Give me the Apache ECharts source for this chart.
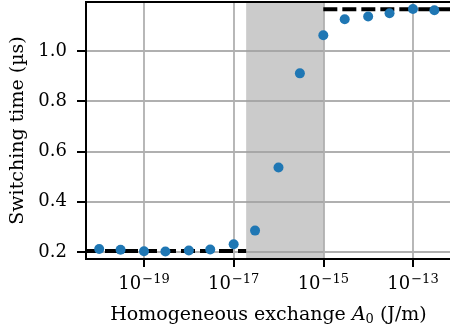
<!DOCTYPE html>
<html><head><meta charset="utf-8">
<script src="https://cdn.jsdelivr.net/npm/echarts@6/dist/echarts.min.js"></script>
<style>html,body{margin:0;padding:0;background:#fff}#c{width:450px;height:331px}</style>
</head><body><div id="c"></div>
<script>
// ---- data ----
const exchangeA0 = [1e-20, 3e-20, 1e-19, 3e-19, 1e-18, 3e-18, 1e-17, 3e-17, 1e-16, 3e-16, 1e-15, 3e-15, 1e-14, 3e-14, 1e-13, 3e-13];
const switchingTime = [0.212, 0.209, 0.203, 0.202, 0.206, 0.210, 0.231, 0.285, 0.536, 0.911, 1.063, 1.126, 1.137, 1.150, 1.167, 1.162];
const xTicks = [1e-19, 1e-17, 1e-15, 1e-13];
const yTicks = [0.2, 0.4, 0.6, 0.8, 1.0];
const shadedRange = [1.9e-17, 1e-15];
const lowLevel = 0.204;
const highLevel = 1.166;
const xRange = [Math.pow(10, -20.294), Math.pow(10, -12.152)];
const yRange = [0.172, 1.195];

const FONT = '"DejaVu Serif", "Liberation Serif", serif';
const chart = echarts.init(document.getElementById('c'), null, {renderer: 'canvas'});

const points = exchangeA0.map((x, i) => [x, switchingTime[i]]);

chart.setOption({
  animation: false,
  backgroundColor: '#fff',
  grid: {
    left: 86, top: 2, width: 365, height: 257,
    containLabel: false, outerBoundsMode: 'none',
    show: true, borderColor: '#000', borderWidth: 2, backgroundColor: 'transparent', z: 5
  },
  xAxis: {
    type: 'log', logBase: 10, min: xRange[0], max: xRange[1], z: 1,
    axisLine: {show: false},
    axisTick: {show: true, customValues: xTicks, length: 8, inside: false, lineStyle: {color: '#000', width: 2}},
    splitLine: {show: true, lineStyle: {color: '#b0b0b0', width: 1.8}},
    axisLabel: {
      customValues: xTicks, margin: 14, color: '#000',
      formatter: v => '{b|10}{sup|\u2212' + Math.abs(Math.round(Math.log10(v))) + '}',
      rich: {
        b: {fontFamily: FONT, fontSize: 18, color: '#000'},
        sup: {fontFamily: FONT, fontSize: 13, color: '#000', padding: [0, 0, 10, 1]}
      }
    },
    name: '{n|Homogeneous exchange }{i|A}{sub|0}{n| (J/m)}',
    nameLocation: 'middle', nameGap: 45,
    nameTextStyle: {
      rich: {
        n: {fontFamily: FONT, fontSize: 19, color: '#000'},
        i: {fontFamily: FONT, fontSize: 19, fontStyle: 'italic', color: '#000'},
        sub: {fontFamily: FONT, fontSize: 13, color: '#000', padding: [9, 0, 0, 0]}
      }
    }
  },
  yAxis: {
    type: 'value', min: yRange[0], max: yRange[1], z: 1,
    axisLine: {show: false},
    axisTick: {show: true, customValues: yTicks, length: 9, lineStyle: {color: '#000', width: 2}},
    splitLine: {show: true, lineStyle: {color: '#b0b0b0', width: 1.8}},
    axisLabel: {
      customValues: yTicks, margin: 19, color: '#000',
      fontFamily: FONT, fontSize: 18,
      formatter: v => v.toFixed(1)
    },
    name: 'Switching time (\u00b5s)',
    nameLocation: 'middle', nameGap: 58, nameRotate: 90,
    nameTextStyle: {fontFamily: FONT, fontSize: 19, color: '#000'}
  },
  series: [
    {
      type: 'line', z: 0, data: [], silent: true,
      markArea: {
        silent: true,
        itemStyle: {color: 'rgba(160,160,160,0.55)'},
        data: [[{xAxis: shadedRange[0]}, {xAxis: shadedRange[1]}]]
      }
    },
    {
      type: 'line', z: 2, symbol: 'none', silent: true,
      lineStyle: {color: '#000', width: 4, type: [14, 5]},
      data: [[xRange[0], lowLevel], [shadedRange[0], lowLevel]]
    },
    {
      type: 'line', z: 2, symbol: 'none', silent: true,
      lineStyle: {color: '#000', width: 4, type: [14, 5]},
      data: [[shadedRange[1], highLevel], [xRange[1], highLevel]]
    },
    {
      type: 'scatter', z: 3, symbolSize: 10,
      itemStyle: {color: '#1f77b4', opacity: 1},
      data: points
    }
  ]
});
</script>
</body></html>
